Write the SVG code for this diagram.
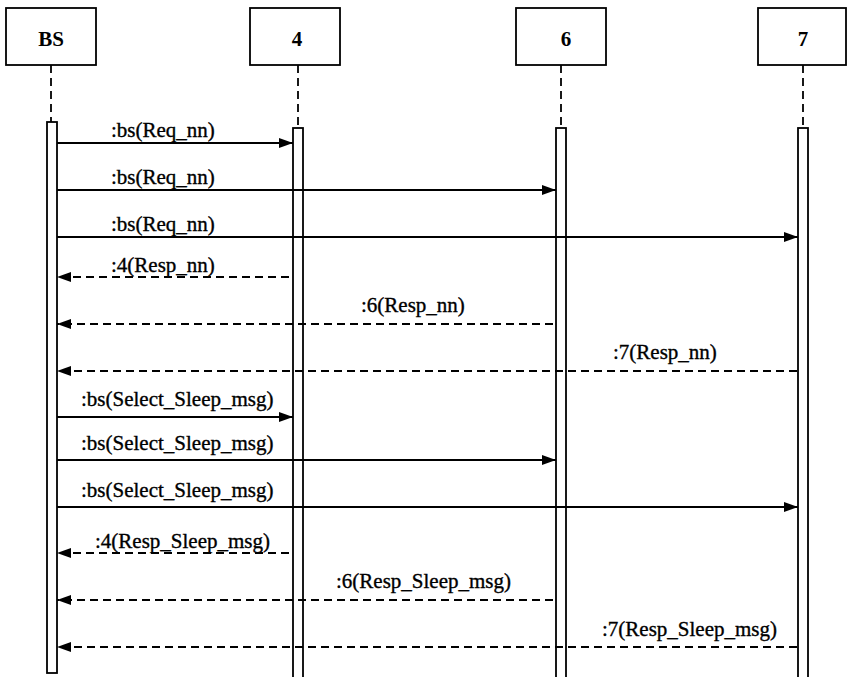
<svg xmlns="http://www.w3.org/2000/svg" width="848" height="677" viewBox="0 0 848 677">
<style>
.box{fill:#fff;stroke:#000;stroke-width:1.8}
.life{stroke:#000;stroke-width:1.8;stroke-dasharray:8 5;fill:none}
.bar{fill:#fff;stroke:#000;stroke-width:1.8}
.name{font-family:"Liberation Serif",serif;font-size:21px;font-weight:bold;text-anchor:middle;fill:#000}
.lbl{font-family:"Liberation Serif",serif;font-size:21px;fill:#000;stroke:#000;stroke-width:0.35}
.msg{stroke:#000;stroke-width:1.8;fill:none}
.ret{stroke:#000;stroke-width:1.8;fill:none;stroke-dasharray:8 5}
</style>
<defs>
<marker id="ah" viewBox="0 0 14 10" refX="14" refY="5" markerWidth="14" markerHeight="10" markerUnits="userSpaceOnUse" orient="auto">
<path d="M0,0 L14,5 L0,10 Z" fill="#000"/>
</marker>
</defs>
<g id="BS">
<rect class="box" x="6" y="8" width="90" height="57"/>
<text class="name" x="51" y="46">BS</text>
<line class="life" x1="51" y1="65" x2="51" y2="122"/>
<rect class="bar" x="47" y="122" width="10" height="551"/>
</g>
<g id="n4">
<rect class="box" x="250" y="8" width="90" height="57"/>
<text class="name" x="297" y="46">4</text>
<line class="life" x1="298" y1="65" x2="298" y2="128"/>
<rect class="bar" x="293" y="128" width="10" height="560"/>
</g>
<g id="n6">
<rect class="box" x="516" y="8" width="90" height="57"/>
<text class="name" x="566" y="46">6</text>
<line class="life" x1="561" y1="65" x2="561" y2="128"/>
<rect class="bar" x="556" y="128" width="10" height="560"/>
</g>
<g id="n7">
<rect class="box" x="758" y="8" width="88" height="57"/>
<text class="name" x="803" y="46">7</text>
<line class="life" x1="803" y1="65" x2="803" y2="128"/>
<rect class="bar" x="798" y="128" width="10" height="560"/>
</g>
<g id="connectors">
<line class="msg" x1="57" y1="143" x2="293" y2="143" marker-end="url(#ah)"/>
<text class="lbl" x="111" y="137">:bs(Req_nn)</text>
<line class="msg" x1="57" y1="190" x2="556" y2="190" marker-end="url(#ah)"/>
<text class="lbl" x="111" y="184">:bs(Req_nn)</text>
<line class="msg" x1="57" y1="237" x2="798" y2="237" marker-end="url(#ah)"/>
<text class="lbl" x="111" y="231">:bs(Req_nn)</text>
<line class="ret" x1="289" y1="277" x2="57" y2="277" marker-end="url(#ah)"/>
<text class="lbl" x="111" y="272">:4(Resp_nn)</text>
<line class="ret" x1="553" y1="324" x2="57" y2="324" marker-end="url(#ah)"/>
<text class="lbl" x="361" y="312">:6(Resp_nn)</text>
<line class="ret" x1="797" y1="371" x2="57" y2="371" marker-end="url(#ah)"/>
<text class="lbl" x="613" y="359">:7(Resp_nn)</text>
<line class="msg" x1="57" y1="417" x2="293" y2="417" marker-end="url(#ah)"/>
<text class="lbl" x="81" y="406">:bs(Select_Sleep_msg)</text>
<line class="msg" x1="57" y1="460" x2="556" y2="460" marker-end="url(#ah)"/>
<text class="lbl" x="81" y="450">:bs(Select_Sleep_msg)</text>
<line class="msg" x1="57" y1="507" x2="798" y2="507" marker-end="url(#ah)"/>
<text class="lbl" x="81" y="497">:bs(Select_Sleep_msg)</text>
<line class="ret" x1="289" y1="553" x2="57" y2="553" marker-end="url(#ah)"/>
<text class="lbl" x="95" y="548">:4(Resp_Sleep_msg)</text>
<line class="ret" x1="553" y1="600" x2="57" y2="600" marker-end="url(#ah)"/>
<text class="lbl" x="336" y="588">:6(Resp_Sleep_msg)</text>
<line class="ret" x1="797" y1="647" x2="57" y2="647" marker-end="url(#ah)"/>
<text class="lbl" x="602" y="636">:7(Resp_Sleep_msg)</text>
</g>
</svg>
